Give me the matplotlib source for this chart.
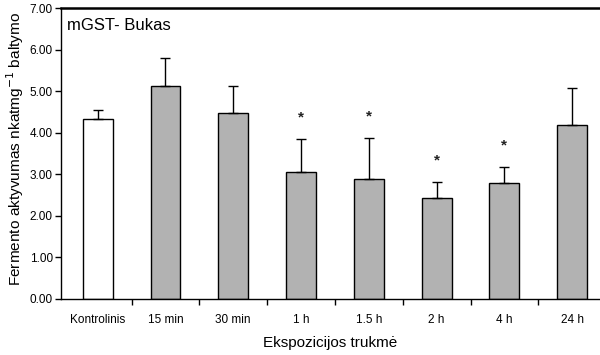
import matplotlib
matplotlib.use("Agg")
import matplotlib.pyplot as plt
import numpy as np

categories = ["Kontrolinis", "15 min", "30 min", "1 h", "1.5 h", "2 h", "4 h", "24 h"]
values = [4.33, 5.12, 4.47, 3.05, 2.89, 2.42, 2.79, 4.18]
errors = [0.21, 0.68, 0.67, 0.81, 0.98, 0.40, 0.39, 0.89]
significant = [False, False, False, True, True, True, True, False]
yticks = [0, 1, 2, 3, 4, 5, 6, 7]

plt.rcParams['font.family'] = ['Liberation Sans', 'DejaVu Sans']

fig = plt.figure(figsize=(6.0, 3.55), dpi=100)
ax = fig.add_axes([0.1017, 0.1583, 0.8983, 0.818])

x = np.arange(len(categories))
colors = ['white'] + ['#b2b2b2'] * (len(categories) - 1)
ax.bar(x, values, width=0.44, color=colors, edgecolor='black', linewidth=1.0, zorder=2)
ax.errorbar(x, values, yerr=[np.zeros(len(values)), errors], fmt='none',
            ecolor='black', elinewidth=1.0, capsize=3.5, capthick=1.0, zorder=3)

for xi, v, e, s in zip(x, values, errors, significant):
    if s:
        ax.text(xi, v + e + 0.52, '*', ha='center', va='center', fontsize=11,
                fontweight='bold', color='#222222')

ax.set_xlim(-0.54, 7.41)
ax.set_ylim(0, 7)
ax.set_yticks(yticks)
ax.set_yticklabels([f"{t:.2f}" for t in yticks], fontsize=8.5)
ax.set_xticks(x)
ax.set_xticklabels(categories, fontsize=8.5)
ax.tick_params(axis='x', length=0, pad=11)
ax.set_xticks(np.arange(len(categories) - 1) + 0.5, minor=True)
ax.tick_params(axis='x', which='minor', length=4, width=1, direction='out')
ax.tick_params(axis='y', length=4, width=1, direction='out', pad=2)

ax.spines['right'].set_visible(False)
ax.spines['top'].set_linewidth(1.8)
ax.spines['left'].set_linewidth(1.0)
ax.spines['bottom'].set_linewidth(1.0)

ax.text(0.012, 0.94, "mGST- Bukas", transform=ax.transAxes, fontsize=12,
        ha='left', va='center')

ax.set_xlabel("Ekspozicijos trukmė", fontsize=11, labelpad=7)
fig.text(0.025, 0.195, "Fermento aktyvumas nkatmg$^{-1}$ baltymo", rotation=90,
         fontsize=11.1, ha='center', va='bottom')

fig.savefig("out.png", dpi=100)
